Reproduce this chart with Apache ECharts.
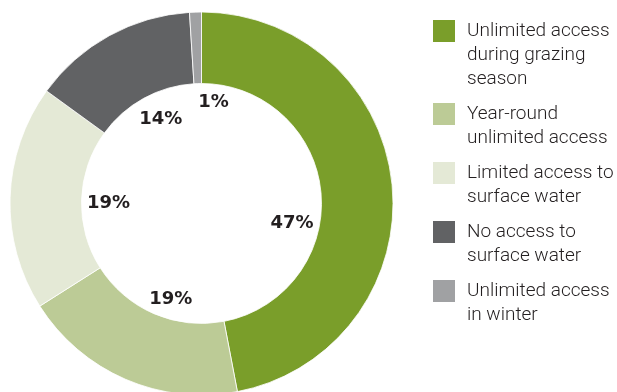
<!DOCTYPE html>
<html>
<head>
<meta charset="utf-8">
<script src="https://cdn.jsdelivr.net/npm/echarts@6/dist/echarts.min.js"></script>
<style>
html,body{margin:0;padding:0;background:#fff;}
#chart{width:617px;height:392px;}
</style>
</head>
<body>
<div id="chart"></div>
<script>
var categories = [
  "Unlimited access\nduring grazing\nseason",
  "Year-round\nunlimited access",
  "Limited access to\nsurface water",
  "No access to\nsurface water",
  "Unlimited access\nin winter"
];
var values = [47, 19, 19, 14, 1];
var colors = ["#7a9e2a", "#bccb96", "#e4e9d6", "#616264", "#a0a1a3"];

var chart = echarts.init(document.getElementById('chart'), null, {renderer: 'canvas'});

var pieData = categories.map(function (c, i) {
  return {name: c, value: values[i], itemStyle: {color: colors[i]}};
});

// hand-placed label nudges as in the reference (style only)
var labelNudge = [[-4, 29], [7, 9], [2, 3], [5, -1], [15, -6]];

// legend drawn as graphic elements built from categories/colors
var graphics = [];
var y = 20;
categories.forEach(function (c, i) {
  var lines = c.split("\n").length;
  graphics.push({
    type: 'rect', left: 433, top: y,
    shape: {width: 22, height: 22},
    style: {fill: colors[i]}
  });
  graphics.push({
    type: 'text', left: 467, top: y - 1,
    style: {
      text: c, fill: '#231f20',
      font: '300 19px Roboto, "Liberation Sans", sans-serif',
      lineHeight: 24
    }
  });
  y += lines * 24 + 11;
});

chart.setOption({
  animation: false,
  graphic: graphics,
  series: [
    {
      type: 'pie',
      center: [201.5, 203.5],
      radius: [120, 191.5],
      startAngle: 90,
      clockwise: true,
      silent: true,
      itemStyle: {borderColor: '#ffffff', borderWidth: 0.8},
      label: {show: false},
      labelLine: {show: false},
      data: pieData
    },
    {
      type: 'pie',
      center: [201.5, 203.5],
      radius: [0, 184],
      startAngle: 90,
      clockwise: true,
      silent: true,
      itemStyle: {color: 'rgba(0,0,0,0)'},
      label: {
        show: true,
        position: 'inside',
        formatter: function (p) { return p.value + '%'; },
        color: '#231f20',
        fontWeight: 'bold',
        fontSize: 18,
        fontFamily: '"DejaVu Sans", sans-serif'
      },
      labelLine: {show: false},
      data: pieData.map(function (d, i) {
        return {name: d.name, value: d.value, label: {offset: labelNudge[i]}};
      })
    }
  ]
});
</script>
</body>
</html>
